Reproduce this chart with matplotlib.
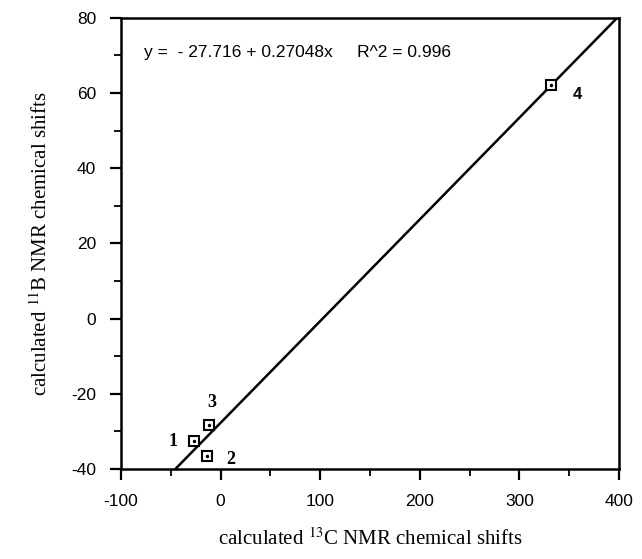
import matplotlib.pyplot as plt
import numpy as np
from matplotlib.ticker import MultipleLocator

plt.rcParams["mathtext.fontset"] = "stix"
plt.rcParams["axes.unicode_minus"] = False

# calculated shifts for compounds 1-4
c13 = [-26.7, -13.6, -12.0, 331.7]
b11 = [-32.6, -36.5, -28.4, 62.2]
labels = ["1", "2", "3", "4"]
label_x = [-47.8, 10.4, -8.6, 358.8]
label_y = [-32.6, -37.4, -22.4, 59.5]

intercept = -27.716
slope = 0.27048
r2 = 0.996

xticks = [-100, 0, 100, 200, 300, 400]
yticks = [-40, -20, 0, 20, 40, 60, 80]

fig = plt.figure(figsize=(6.42, 5.59), dpi=100)
ax = fig.add_axes([0.1885, 0.161, 0.7755, 0.807])

# regression line
xl = np.array([-100, 400])
ax.plot(xl, intercept + slope * xl, color="black", lw=1.8, zorder=2)

# open square markers with a dot inside
ax.plot(c13, b11, ls="none", marker="s", ms=6.5, mfc="white", mec="black",
        mew=1.5, zorder=3)
ax.plot(c13, b11, ls="none", marker="o", ms=1.5, color="black", zorder=4)

for i, t in enumerate(labels):
    fam = "Liberation Sans" if t == "4" else "Liberation Serif"
    ax.text(label_x[i], label_y[i], t, fontsize=13 if t != "4" else 12,
            fontweight="bold", family=fam, ha="center", va="center")

ax.text(-77, 70.7, "y =  - 27.716 + 0.27048x     R^2 = %.3f" % r2,
        fontsize=12.5, family="Liberation Sans", va="center", ha="left")

ax.set_xlim(-100, 400)
ax.set_ylim(-40, 80)
ax.set_xticks(xticks)
ax.set_yticks(yticks)
ax.xaxis.set_minor_locator(MultipleLocator(50))
ax.yaxis.set_minor_locator(MultipleLocator(10))
ax.tick_params(which="major", direction="out", length=8, width=1.6, pad=10,
               top=False, right=False)
ax.tick_params(which="minor", direction="out", length=5, width=1.3,
               top=False, right=False)
for lab in ax.get_xticklabels() + ax.get_yticklabels():
    lab.set_family("Liberation Sans")
    lab.set_fontsize(12.5)
for s in ax.spines.values():
    s.set_linewidth(1.8)

ax.set_xlabel("calculated $^{13}$C NMR chemical shifts", family="Liberation Serif",
              fontsize=15, labelpad=14)
ax.set_ylabel("calculated $^{11}$B NMR chemical shifts", family="Liberation Serif",
              fontsize=15, labelpad=14)

fig.savefig("out.png")
